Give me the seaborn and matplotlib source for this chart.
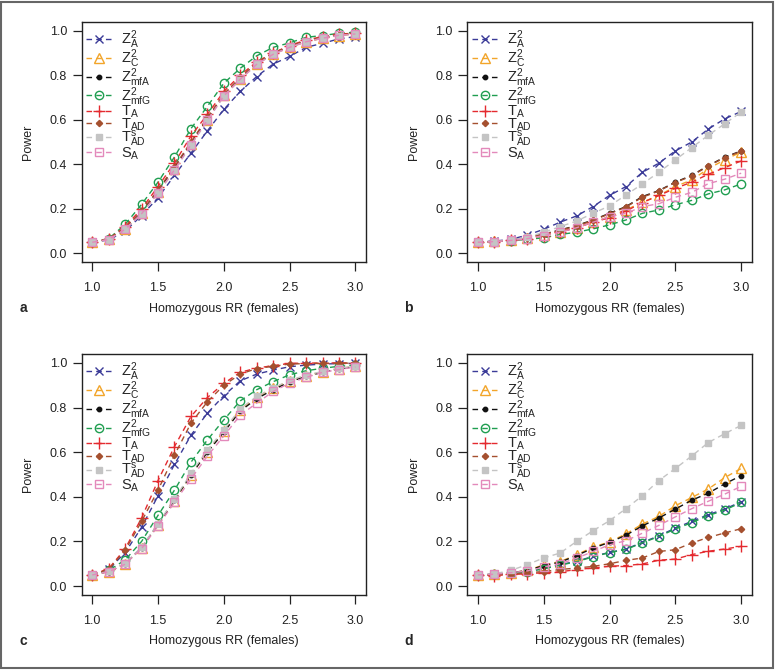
import numpy as np
import pandas as pd
import matplotlib
matplotlib.use("Agg")
import matplotlib.pyplot as plt
import seaborn as sns
from matplotlib.patches import Rectangle

# x values: homozygous relative risk in females
rr = [1.0, 1.125, 1.25, 1.375, 1.5, 1.625, 1.75, 1.875, 2.0,
      2.125, 2.25, 2.375, 2.5, 2.625, 2.75, 2.875, 3.0]

series = ["ZA", "ZC", "ZmfA", "ZmfG", "TA", "TAD", "TsAD", "SA"]
labels = [r"$Z_A^2$", r"$Z_C^2$", r"$Z_{mfA}^2$", r"$Z_{mfG}^2$",
          r"$T_A$", r"$T_{AD}$", r"$T_{AD}^s$", r"$S_A$"]

# panel a
a_ZA = [0.05, 0.06, 0.10, 0.17, 0.25, 0.35, 0.45, 0.55, 0.646, 0.727, 0.794, 0.85, 0.884, 0.925, 0.943, 0.963, 0.973]
a_ZC = [0.05, 0.063, 0.11, 0.18, 0.275, 0.38, 0.49, 0.60, 0.71, 0.785, 0.85, 0.895, 0.925, 0.95, 0.965, 0.978, 0.985]
a_ZmfA = [0.05, 0.064, 0.112, 0.185, 0.28, 0.385, 0.495, 0.605, 0.712, 0.787, 0.852, 0.897, 0.927, 0.952, 0.967, 0.98, 0.986]
a_ZmfG = [0.05, 0.066, 0.13, 0.22, 0.32, 0.433, 0.56, 0.66, 0.764, 0.831, 0.887, 0.925, 0.945, 0.97, 0.978, 0.988, 0.993]
a_TA = [0.05, 0.065, 0.12, 0.20, 0.30, 0.406, 0.527, 0.624, 0.727, 0.80, 0.86, 0.90, 0.933, 0.958, 0.973, 0.985, 0.988]
a_TAD = [0.05, 0.064, 0.115, 0.19, 0.285, 0.39, 0.50, 0.61, 0.715, 0.79, 0.855, 0.90, 0.93, 0.955, 0.97, 0.982, 0.987]
a_TsAD = [0.05, 0.062, 0.108, 0.178, 0.27, 0.372, 0.485, 0.595, 0.705, 0.78, 0.848, 0.893, 0.925, 0.95, 0.966, 0.978, 0.985]
a_SA = [0.05, 0.062, 0.108, 0.178, 0.272, 0.375, 0.488, 0.598, 0.707, 0.782, 0.849, 0.894, 0.925, 0.95, 0.966, 0.979, 0.985]

# panel b
b_ZA = [0.052, 0.055, 0.063, 0.082, 0.108, 0.14, 0.168, 0.21, 0.26, 0.30, 0.364, 0.405, 0.46, 0.50, 0.558, 0.604, 0.637]
b_ZC = [0.05, 0.054, 0.058, 0.068, 0.082, 0.098, 0.115, 0.14, 0.165, 0.195, 0.23, 0.26, 0.30, 0.33, 0.38, 0.42, 0.455]
b_ZmfA = [0.05, 0.054, 0.06, 0.07, 0.087, 0.105, 0.125, 0.15, 0.18, 0.21, 0.255, 0.282, 0.32, 0.35, 0.394, 0.432, 0.46]
b_ZmfG = [0.05, 0.053, 0.057, 0.063, 0.07, 0.085, 0.095, 0.11, 0.128, 0.15, 0.18, 0.195, 0.218, 0.238, 0.267, 0.285, 0.312]
b_TA = [0.05, 0.053, 0.058, 0.066, 0.08, 0.097, 0.115, 0.14, 0.16, 0.19, 0.228, 0.26, 0.292, 0.32, 0.355, 0.385, 0.415]
b_TAD = [0.05, 0.054, 0.06, 0.07, 0.086, 0.104, 0.123, 0.148, 0.178, 0.208, 0.252, 0.28, 0.318, 0.348, 0.392, 0.43, 0.458]
b_TsAD = [0.05, 0.053, 0.06, 0.072, 0.095, 0.12, 0.145, 0.18, 0.213, 0.262, 0.312, 0.364, 0.42, 0.475, 0.53, 0.582, 0.634]
b_SA = [0.05, 0.053, 0.058, 0.066, 0.08, 0.095, 0.115, 0.14, 0.165, 0.18, 0.21, 0.223, 0.252, 0.274, 0.313, 0.333, 0.36]

# panel c
c_ZA = [0.05, 0.075, 0.15, 0.263, 0.405, 0.545, 0.676, 0.775, 0.853, 0.92, 0.95, 0.968, 0.983, 0.99, 0.995, 0.997, 0.998]
c_ZC = [0.05, 0.065, 0.10, 0.17, 0.275, 0.383, 0.497, 0.602, 0.695, 0.79, 0.848, 0.886, 0.92, 0.943, 0.96, 0.975, 0.985]
c_ZmfA = [0.05, 0.065, 0.10, 0.172, 0.277, 0.385, 0.498, 0.60, 0.69, 0.785, 0.84, 0.88, 0.915, 0.94, 0.958, 0.973, 0.984]
c_ZmfG = [0.05, 0.07, 0.117, 0.20, 0.317, 0.43, 0.555, 0.655, 0.745, 0.83, 0.88, 0.916, 0.947, 0.965, 0.976, 0.985, 0.99]
c_TA = [0.05, 0.078, 0.167, 0.305, 0.473, 0.625, 0.76, 0.845, 0.908, 0.958, 0.977, 0.988, 0.998, 0.999, 1.0, 1.0, 1.0]
c_TAD = [0.05, 0.075, 0.16, 0.29, 0.43, 0.587, 0.73, 0.826, 0.90, 0.95, 0.975, 0.985, 0.995, 0.997, 0.998, 0.999, 0.999]
c_TsAD = [0.05, 0.066, 0.102, 0.175, 0.28, 0.39, 0.505, 0.61, 0.70, 0.795, 0.85, 0.888, 0.922, 0.945, 0.962, 0.976, 0.986]
c_SA = [0.05, 0.064, 0.098, 0.168, 0.27, 0.375, 0.48, 0.583, 0.673, 0.766, 0.82, 0.872, 0.91, 0.935, 0.958, 0.97, 0.982]

# panel d
d_ZA = [0.05, 0.053, 0.058, 0.066, 0.078, 0.096, 0.111, 0.133, 0.151, 0.166, 0.196, 0.225, 0.26, 0.29, 0.32, 0.345, 0.378]
d_ZC = [0.05, 0.052, 0.06, 0.07, 0.095, 0.11, 0.14, 0.175, 0.198, 0.234, 0.278, 0.312, 0.36, 0.397, 0.435, 0.486, 0.527]
d_ZmfA = [0.05, 0.052, 0.06, 0.069, 0.092, 0.107, 0.137, 0.17, 0.196, 0.228, 0.27, 0.305, 0.345, 0.385, 0.416, 0.458, 0.495]
d_ZmfG = [0.05, 0.053, 0.058, 0.065, 0.077, 0.094, 0.109, 0.131, 0.15, 0.164, 0.194, 0.222, 0.256, 0.284, 0.316, 0.34, 0.375]
d_TA = [0.049, 0.047, 0.052, 0.055, 0.06, 0.064, 0.074, 0.081, 0.089, 0.092, 0.099, 0.116, 0.121, 0.141, 0.156, 0.166, 0.178]
d_TAD = [0.05, 0.051, 0.053, 0.06, 0.065, 0.074, 0.081, 0.088, 0.10, 0.115, 0.126, 0.155, 0.163, 0.193, 0.218, 0.238, 0.257]
d_TsAD = [0.05, 0.055, 0.07, 0.096, 0.126, 0.148, 0.2, 0.248, 0.293, 0.347, 0.405, 0.473, 0.527, 0.583, 0.643, 0.683, 0.72]
d_SA = [0.05, 0.053, 0.06, 0.068, 0.085, 0.10, 0.125, 0.155, 0.185, 0.203, 0.237, 0.272, 0.31, 0.347, 0.38, 0.412, 0.447]

panels = {
    "a": [a_ZA, a_ZC, a_ZmfA, a_ZmfG, a_TA, a_TAD, a_TsAD, a_SA],
    "b": [b_ZA, b_ZC, b_ZmfA, b_ZmfG, b_TA, b_TAD, b_TsAD, b_SA],
    "c": [c_ZA, c_ZC, c_ZmfA, c_ZmfG, c_TA, c_TAD, c_TsAD, c_SA],
    "d": [d_ZA, d_ZC, d_ZmfA, d_ZmfG, d_TA, d_TAD, d_TsAD, d_SA],
}

# style of each series: colour, marker, size, open marker?
colors = ["#3b3b98", "#f2a52a", "#111111", "#1f9e50", "#e42a2f", "#a5502f", "#c4c4c4", "#e389bb"]
markers = ["x", "^", "o", "o", "+", "D", "s", "s"]
msizes = [6, 6.5, 3.2, 6, 8.5, 3.2, 4.8, 5.6]
hollow = [False, True, False, True, False, False, False, True]

sns.set_style("ticks")
plt.rcParams["font.family"] = ["Liberation Sans", "DejaVu Sans"]
plt.rcParams["mathtext.default"] = "regular"

fig = plt.figure(figsize=(7.76, 6.70), dpi=100)
W, H = 776, 670

# axes boxes in pixels (left, top, right, bottom)
boxes = {
    "a": (81.7, 21.7, 366, 262.3),
    "b": (467.3, 21.7, 751.7, 262.3),
    "c": (81.7, 354, 366, 595),
    "d": (467.3, 354, 751.7, 595),
}

for key, vals in panels.items():
    l, t, r, b = boxes[key]
    ax = fig.add_axes([l / W, 1 - b / H, (r - l) / W, (b - t) / H])
    for i, name in enumerate(series):
        df = pd.DataFrame({"rr": rr, "power": vals[i]})
        sns.lineplot(data=df, x="rr", y="power", ax=ax, color=colors[i],
                     linestyle=(0, (4, 3)), linewidth=1.0,
                     marker=markers[i], markersize=msizes[i],
                     mec=colors[i], mew=1.0,
                     mfc="none" if hollow[i] else colors[i],
                     label=labels[i], legend=False)
    ax.set_xlim(0.92, 3.08)
    ax.set_ylim(-0.04, 1.04)
    ax.set_xticks([1.0, 1.5, 2.0, 2.5, 3.0])
    ax.set_xticklabels(["1.0", "1.5", "2.0", "2.5", "3.0"])
    ax.set_yticks([0.0, 0.2, 0.4, 0.6, 0.8, 1.0])
    ax.set_yticklabels(["0.0", "0.2", "0.4", "0.6", "0.8", "1.0"])
    ax.tick_params(axis="both", direction="out", length=6.5, width=0.9,
                   labelsize=9, colors="#222222")
    ax.tick_params(axis="x", pad=8)
    ax.tick_params(axis="y", pad=4)
    for sp in ax.spines.values():
        sp.set_visible(True)
        sp.set_linewidth(1.0)
        sp.set_color("#222222")
    ax.set_xlabel("Homozygous RR (females)", fontsize=9, labelpad=6, color="#222222")
    ax.set_ylabel("Power", fontsize=9, labelpad=11, color="#222222")
    ax.legend(loc="upper left", bbox_to_anchor=(0.0, 0.99), frameon=False,
              fontsize=10.5, handlelength=1.8, handletextpad=0.6,
              labelspacing=-0.26, borderaxespad=0.1, borderpad=0.2,
              numpoints=1)
    fig.text((l - 58.7) / W, 1 - (b + 46) / H, key, fontsize=10,
             fontweight="bold", ha="center", va="center")

# grey frame round the whole figure
fig.patches.append(Rectangle((1 / W, 2 / H), 772 / W, 666 / H, transform=fig.transFigure,
                             fill=False, edgecolor="#666666", linewidth=1.5))

fig.savefig("out.png", dpi=100)
